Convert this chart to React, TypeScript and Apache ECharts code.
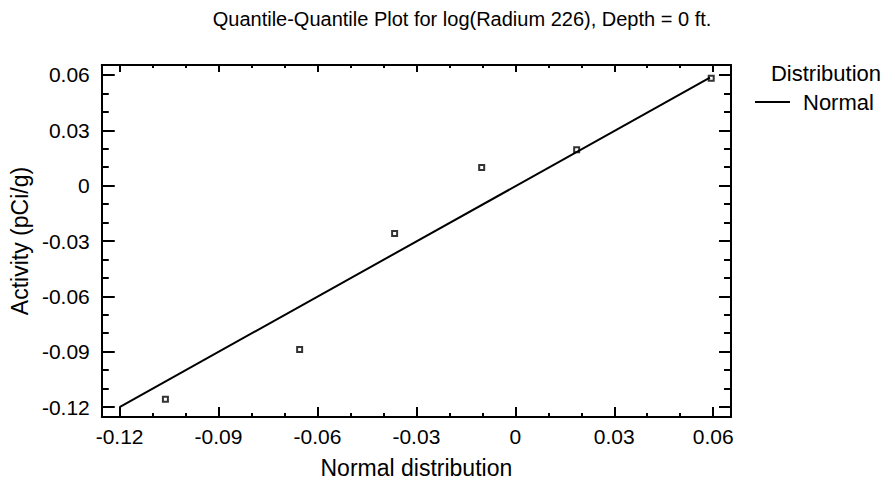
import React, { useEffect, useRef } from "react";
import * as echarts from "echarts";

const TITLE = "Quantile-Quantile Plot for log(Radium 226), Depth = 0 ft.";
const X_NAME = "Normal distribution";
const Y_NAME = "Activity (pCi/g)";
const LEGEND_TITLE = "Distribution";
const LEGEND_NAME = "Normal";

const AXIS_MIN = -0.1254;
const AXIS_MAX = 0.0654;
const MAJOR_TICKS = [-0.12, -0.09, -0.06, -0.03, 0, 0.03, 0.06];
const MAJOR_TICK_LABELS = ["-0.12", "-0.09", "-0.06", "-0.03", "0", "0.03", "0.06"];
const MINOR_TICKS = [-0.11, -0.1, -0.08, -0.07, -0.05, -0.04, -0.02, -0.01, 0.01, 0.02, 0.04, 0.05];

const NORMAL_QUANTILES = [-0.1061, -0.0654, -0.0366, -0.0102, 0.0186, 0.0594];
const ACTIVITY = [-0.1158, -0.0888, -0.026, 0.0099, 0.0195, 0.0582];

const REF_LINE_X = [-0.12, 0.059];
const REF_LINE_Y = [-0.12, 0.0585];

const FONT = "'Liberation Sans', Arial, Helvetica, sans-serif";

function fmt(v: number): string {
  const i = MAJOR_TICKS.findIndex((t) => Math.abs(t - v) < 1e-9);
  return i >= 0 ? MAJOR_TICK_LABELS[i] : "";
}

function makeAxis(dim: "x" | "y", position: string, ticks: number[], len: number, showLine: boolean, showLabels: boolean, extra: any = {}) {
  return {
    type: "value",
    min: AXIS_MIN,
    max: AXIS_MAX,
    position,
    splitLine: { show: false },
    axisLine: { show: showLine, onZero: false, lineStyle: { color: "#000", width: 2 } },
    axisTick: { show: true, inside: true, length: len, customValues: ticks, lineStyle: { color: "#000", width: 2 } },
    axisLabel: showLabels
      ? { show: true, customValues: ticks, formatter: fmt, color: "#000", fontSize: 21, fontFamily: FONT, margin: dim === "x" ? 9 : 12 }
      : { show: false },
    ...extra,
  };
}

export default function App() {
  const ref = useRef<HTMLDivElement>(null);
  useEffect(() => {
    if (!ref.current) return;
    const chart = echarts.init(ref.current, null, { renderer: "svg" });
    const scatterData = NORMAL_QUANTILES.map((x, i) => [x, ACTIVITY[i]]);
    const lineData = REF_LINE_X.map((x, i) => [x, REF_LINE_Y[i]]);
    chart.setOption({
      animation: false,
      backgroundColor: "#fff",
      grid: { left: 95, top: 65, right: 164, bottom: 72, containLabel: false },
      xAxis: [
        makeAxis("x", "bottom", MAJOR_TICKS, 10, true, true, {
          name: X_NAME,
          nameLocation: "middle",
          nameGap: 39,
          nameTextStyle: { color: "#000", fontSize: 23, fontFamily: FONT },
        }),
        makeAxis("x", "bottom", MINOR_TICKS, 4, false, false),
        makeAxis("x", "top", MAJOR_TICKS, 7, true, false),
        makeAxis("x", "top", MINOR_TICKS, 3, false, false),
      ],
      yAxis: [
        makeAxis("y", "left", MAJOR_TICKS, 13, true, true, {
          name: Y_NAME,
          nameLocation: "middle",
          nameGap: 54,
          nameTextStyle: { color: "#000", fontSize: 23, fontFamily: FONT },
        }),
        makeAxis("y", "left", MINOR_TICKS, 7, false, false),
        makeAxis("y", "right", MAJOR_TICKS, 12, true, false),
        makeAxis("y", "right", MINOR_TICKS, 7, false, false),
      ],
      legend: {
        show: true,
        data: [{ name: LEGEND_NAME, icon: "rect" }],
        left: 755,
        top: 91,
        padding: 0,
        orient: "vertical",
        itemWidth: 35,
        itemHeight: 2,
        itemGap: 8,
        itemStyle: { color: "#000" },
        textStyle: { color: "#000", fontSize: 22, fontFamily: FONT, padding: [0, 0, 0, 8] },
      },
      graphic: [
        {
          type: "text",
          x: 462,
          y: 19,
          style: { text: TITLE, fill: "#000", font: `20px ${FONT}`, textAlign: "center", textVerticalAlign: "middle" },
        },
        {
          type: "text",
          x: 826,
          y: 73,
          style: { text: LEGEND_TITLE, fill: "#000", font: `22px ${FONT}`, textAlign: "center", textVerticalAlign: "middle" },
        },
      ],
      series: [
        {
          type: "scatter",
          name: "data",
          xAxisIndex: 0,
          yAxisIndex: 0,
          data: scatterData,
          symbol: "rect",
          symbolSize: 5,
          itemStyle: { color: "#fff", borderColor: "#000", borderWidth: 2 },
          silent: true,
        },
        {
          type: "line",
          name: LEGEND_NAME,
          xAxisIndex: 0,
          yAxisIndex: 0,
          data: lineData,
          symbol: "none",
          showSymbol: false,
          lineStyle: { color: "#000", width: 2 },
          itemStyle: { color: "#000" },
        },
      ],
    });
    return () => chart.dispose();
  }, []);
  return <div ref={ref} style={{ width: 895, height: 489, position: "absolute", left: 0, top: 0 }} />;
}
